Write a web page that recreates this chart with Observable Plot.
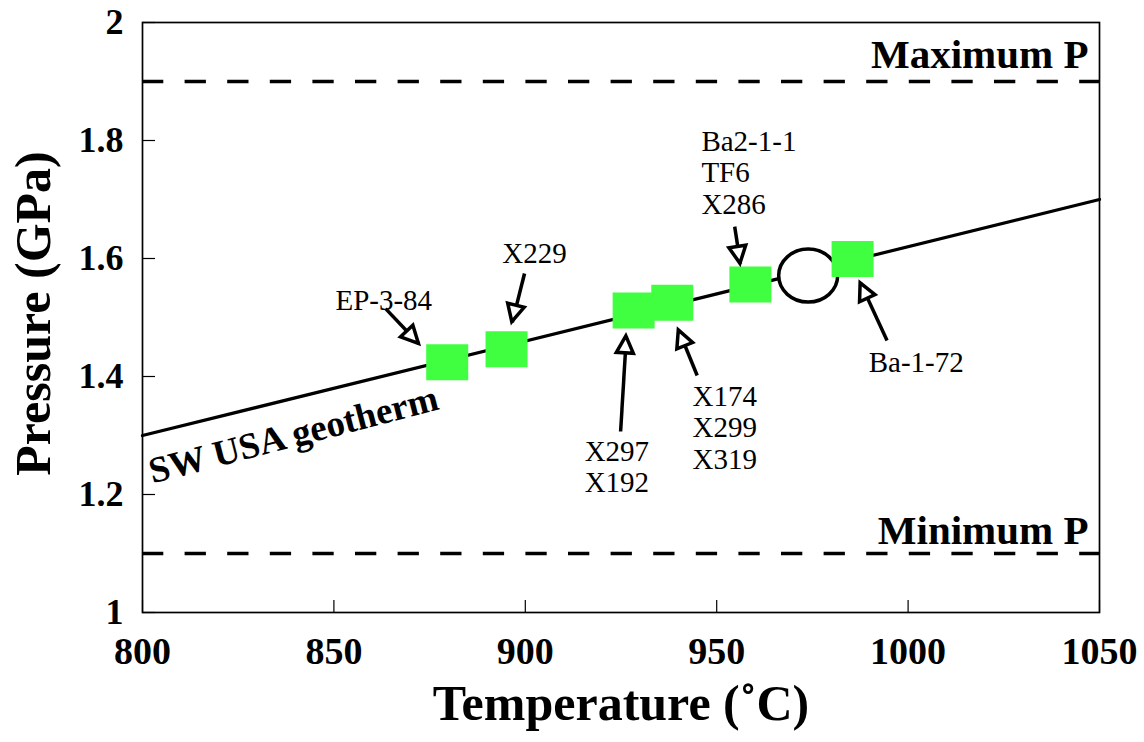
<!DOCTYPE html>
<html>
<head>
<meta charset="utf-8">
<script src="https://cdn.jsdelivr.net/npm/d3@7"></script>
<script src="https://cdn.jsdelivr.net/npm/@observablehq/plot@0.6"></script>
<style>
  html, body { margin: 0; padding: 0; background: #fff; }
  svg { display: block; }
</style>
</head>
<body>
<div id="chart"></div>
<script>
// ---- data ----
const xTicks = [800, 850, 900, 950, 1000, 1050];
const xTickLabels = ["800", "850", "900", "950", "1000", "1050"];
const yTicks = [1, 1.2, 1.4, 1.6, 1.8, 2];
const yTickLabels = ["1", "1.2", "1.4", "1.6", "1.8", "2"];

const geothermT = [800, 1050];
const geothermP = [1.3, 1.7];
const geothermName = ["SW USA geotherm"];
const geothermLabelT = [802.6];
const geothermLabelP = [1.2186];

const limitP = [1.9, 1.1];
const limitNames = ["Maximum P", "Minimum P"];

const sampleLabels = ["EP-3-84", "X229", "X297\nX192", "X174\nX299\nX319", "Ba2-1-1\nTF6\nX286", "Ba-1-72"];
const sampleT = [879.6, 895.1, 928.3, 938.4, 958.8, 985.5];
const sampleP = [1.424, 1.446, 1.512, 1.525, 1.556, 1.599];

const openT = [973.9];
const openP = [1.571];

const labelT = [850.4, 894.0, 915.5, 943.7, 946.0, 989.7];
const labelP = [1.512, 1.593, 1.2034, 1.244, 1.676, 1.407];

const arrowFromT = [863.5, 899.8, 924.9, 944.9, 954.7, 994.5];
const arrowFromP = [1.515, 1.5746, 1.3068, 1.4017, 1.654, 1.461];
const arrowToT = [872.2, 896.6, 926.4, 940.1, 956.2, 987.6];
const arrowToP = [1.4554, 1.492, 1.468, 1.478, 1.591, 1.558];

// ---- tables ----
const geotherm = geothermT.map((t, i) => ({t, p: geothermP[i]}));
const samples = sampleLabels.map((label, i) => ({label, t: sampleT[i], p: sampleP[i], lt: labelT[i], lp: labelP[i]}));
const opens = openT.map((t, i) => ({t, p: openP[i]}));
const arrows = arrowFromT.map((t, i) => ({x1: t, y1: arrowFromP[i], x2: arrowToT[i], y2: arrowToP[i]}));

const serif = "'Liberation Serif', 'Times New Roman', Times, serif";

// ---- symbols ----
const rectSymbol = {draw(ctx) { const w = 42, h = 36; ctx.rect(-w / 2, -h / 2, w, h); }};
const ellipseSymbol = {draw(ctx) {
  const rx = 29.5, ry = 26.5, k = 0.5523;
  ctx.moveTo(rx, 0);
  ctx.bezierCurveTo(rx, ry * k, rx * k, ry, 0, ry);
  ctx.bezierCurveTo(-rx * k, ry, -rx, ry * k, -rx, 0);
  ctx.bezierCurveTo(-rx, -ry * k, -rx * k, -ry, 0, -ry);
  ctx.bezierCurveTo(rx * k, -ry, rx, -ry * k, rx, 0);
  ctx.closePath();
}};

// open triangular arrowheads, positioned through Plot's scales
function arrowHeads(index, scales) {
  const sx = scales.x, sy = scales.y;
  const g = d3.create("svg:g")
    .attr("fill", "white").attr("stroke", "black")
    .attr("stroke-width", 3.5).attr("stroke-linejoin", "miter");
  const L = 17, W = 8.5;
  for (const a of arrows) {
    const x1 = sx(a.x1), y1 = sy(a.y1), x2 = sx(a.x2), y2 = sy(a.y2);
    const ang = Math.atan2(y2 - y1, x2 - x1);
    const c = Math.cos(ang), s = Math.sin(ang);
    const bx = x2 - L * c, by = y2 - L * s;
    g.append("path").attr("d",
      `M${x2},${y2}L${bx + W * s},${by - W * c}L${bx - W * s},${by + W * c}Z`);
  }
  return g.node();
}

const chart = Plot.plot({
  width: 1144,
  height: 742,
  marginLeft: 142,
  marginRight: 45,
  marginTop: 22,
  marginBottom: 130,
  style: {fontFamily: serif, background: "white", color: "black", overflow: "visible"},
  x: {domain: [800, 1050], label: null},
  y: {domain: [1, 2], label: null},
  marks: [
    Plot.ruleY(limitP, {stroke: "black", strokeWidth: 3.6, strokeDasharray: "21.3,21.3"}),
    Plot.line(geotherm, {x: "t", y: "p", stroke: "black", strokeWidth: 3.2}),
    Plot.dot(opens, {x: "t", y: "p", symbol: ellipseSymbol, r: 10, fill: "white", stroke: "black", strokeWidth: 3.5}),
    Plot.dot(samples, {x: "t", y: "p", symbol: rectSymbol, r: 10, fill: "#40ff40", stroke: "none"}),
    Plot.link(arrows, {x1: "x1", y1: "y1", x2: "x2", y2: "y2", stroke: "black", strokeWidth: 3.5}),
    arrowHeads,
    Plot.text(samples, {x: "lt", y: "lp", text: "label", textAnchor: "start", lineAnchor: "bottom", fontSize: 29, lineHeight: 1.08, fontFamily: serif, fill: "black"}),
    Plot.text(geothermName, {x: geothermLabelT, y: geothermLabelP, text: d => d, rotate: -14.5, textAnchor: "start", lineAnchor: "bottom", fontSize: 37, fontWeight: "bold", fontFamily: serif, fill: "black"}),
    Plot.text([limitNames[0]], {y: [limitP[0]], text: d => d, frameAnchor: "right", textAnchor: "end", lineAnchor: "bottom", dx: -11, dy: -14, fontSize: 41, fontWeight: "bold", fontFamily: serif, fill: "black"}),
    Plot.text([limitNames[1]], {y: [limitP[1]], text: d => d, frameAnchor: "right", textAnchor: "end", lineAnchor: "bottom", dx: -11, dy: -10, fontSize: 41, fontWeight: "bold", fontFamily: serif, fill: "black"}),
    Plot.axisX({ticks: xTicks, tickFormat: d => xTickLabels[xTicks.indexOf(d)], tickSize: -12, tickPadding: 37, fontSize: 38, fontWeight: "bold", fontFamily: serif, label: null, strokeWidth: 1.2}),
    Plot.axisY({ticks: yTicks, tickFormat: d => yTickLabels[yTicks.indexOf(d)], tickSize: -13, tickPadding: 32, fontSize: 36, fontWeight: "bold", fontFamily: serif, label: null, strokeWidth: 1.2}),
    Plot.text(["Temperature (˚C)"], {text: d => d, frameAnchor: "bottom", textAnchor: "middle", lineAnchor: "bottom", dy: 107, fontSize: 50, fontWeight: "bold", fontFamily: serif, fill: "black"}),
    Plot.text(["Pressure (GPa)"], {text: d => d, frameAnchor: "left", textAnchor: "middle", lineAnchor: "bottom", rotate: -90, dx: -93, dy: -4, fontSize: 50, fontWeight: "bold", fontFamily: serif, fill: "black"}),
    Plot.frame({stroke: "black", strokeWidth: 1.7})
  ]
});
document.getElementById("chart").append(chart);
</script>
</body>
</html>
